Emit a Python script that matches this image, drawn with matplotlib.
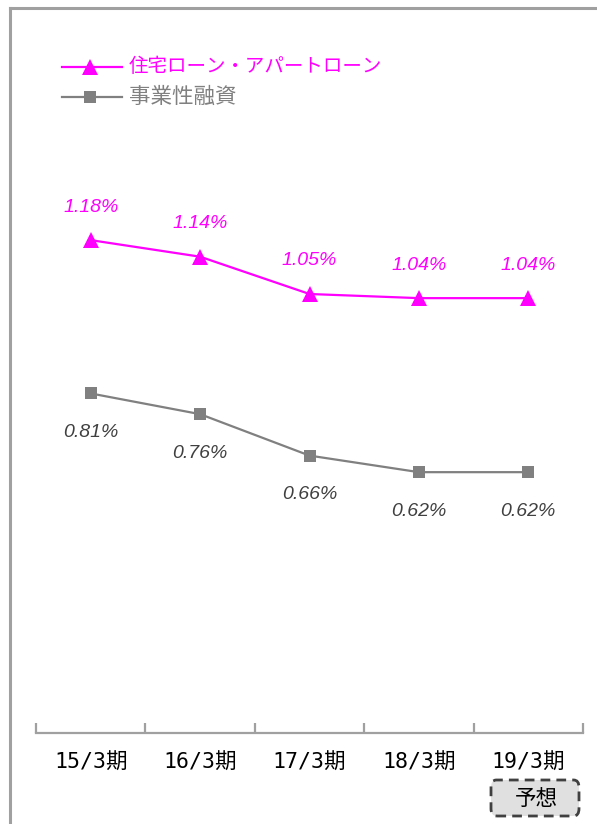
import matplotlib
matplotlib.use("Agg")
import matplotlib.pyplot as plt
from matplotlib.patches import FancyBboxPatch
from matplotlib.lines import Line2D

plt.rcParams['font.family'] = ['Noto Sans CJK JP', 'DejaVu Sans']

periods = ["15/3期", "16/3期", "17/3期", "18/3期", "19/3期"]
housing_loans = [1.18, 1.14, 1.05, 1.04, 1.04]
business_loans = [0.81, 0.76, 0.66, 0.62, 0.62]
series_names = ["住宅ローン・アパートローン", "事業性融資"]
forecast_label = "予想"

PINK = "#FF00FF"
GRAY = "#808080"
LABEL_GRAY = "#404040"
FRAME = "#a0a0a0"

W, H = 597, 824
fig = plt.figure(figsize=(W / 100, H / 100), dpi=100)

def fx(px):
    return px / W

def fy(py):
    return 1 - py / H

# outer frame (top and left edges visible)
fig.add_artist(Line2D([fx(10), 1.01], [fy(8), fy(8)], color=FRAME, lw=2.2,
                      transform=fig.transFigure))
fig.add_artist(Line2D([fx(10), fx(10)], [fy(8), -0.01], color=FRAME, lw=2.2,
                      transform=fig.transFigure))

ax_left, ax_right = 36, 583
ax_top, ax_bottom = 40, 733
ax = fig.add_axes([fx(ax_left), fy(ax_bottom), fx(ax_right - ax_left),
                   (ax_bottom - ax_top) / H])
ax.set_facecolor("none")

x = list(range(len(periods)))
ax.plot(x, housing_loans, color=PINK, lw=1.6, marker="^", markersize=11,
        markeredgewidth=0, clip_on=False)
ax.plot(x, business_loans, color=GRAY, lw=1.6, marker="s", markersize=9,
        markeredgewidth=0, clip_on=False)

pct_font = ["Liberation Sans", "DejaVu Sans"]
for xi, v in zip(x, housing_loans):
    ax.annotate(f"{v:.2f}%", (xi, v), xytext=(0, 33), textcoords="offset pixels",
                ha="center", va="center", color=PINK, fontsize=14,
                fontstyle="italic", family=pct_font)
for xi, v in zip(x, business_loans):
    ax.annotate(f"{v:.2f}%", (xi, v), xytext=(0, -39), textcoords="offset pixels",
                ha="center", va="center", color=LABEL_GRAY, fontsize=14,
                fontstyle="italic", family=pct_font)

ax.set_xlim(-0.5, len(periods) - 0.5)
ax.set_ylim(-0.0095, 1.663)

for side in ["top", "left", "right"]:
    ax.spines[side].set_visible(False)
ax.spines["bottom"].set_color(FRAME)
ax.spines["bottom"].set_linewidth(1.6)
ax.set_yticks([])

ax.set_xticks(x)
ax.set_xticklabels(periods, fontsize=15.5, color="black",
                   family=["DejaVu Sans Mono", "Noto Sans CJK JP"])
ax.tick_params(axis="x", which="major", length=0, pad=14)
ax.set_xticks([i - 0.5 for i in range(len(periods) + 1)], minor=True)
ax.tick_params(axis="x", which="minor", direction="in", length=7, width=1.6,
               color=FRAME)

# legend drawn by hand at the upper left
leg_items = [(series_names[0], PINK, "^", 11, 67, 14),
             (series_names[1], GRAY, "s", 9, 97, 15.5)]
for name, col, mk, ms, py, fs in leg_items:
    fig.add_artist(Line2D([fx(62), fx(122)], [fy(py), fy(py)], color=col, lw=1.6,
                          transform=fig.transFigure))
    fig.add_artist(Line2D([fx(90)], [fy(py)], color=col, marker=mk, markersize=ms,
                          markeredgewidth=0, transform=fig.transFigure))
    fig.text(fx(129), fy(py), name, color=col, fontsize=fs, va="center",
             ha="left")

# forecast tag under the last period
box = FancyBboxPatch((fx(491), fy(816)), fx(579 - 491), (816 - 780) / H,
                     boxstyle="round,pad=0,rounding_size=0.009",
                     transform=fig.transFigure, facecolor="#e0e0e0",
                     edgecolor="#404040", lw=2.0, linestyle=(0, (3.5, 2.2)))
fig.add_artist(box)
fig.text(fx(536), fy(799), forecast_label, fontsize=15.5, ha="center",
         va="center", color="black")

fig.savefig("out.png", dpi=100)
